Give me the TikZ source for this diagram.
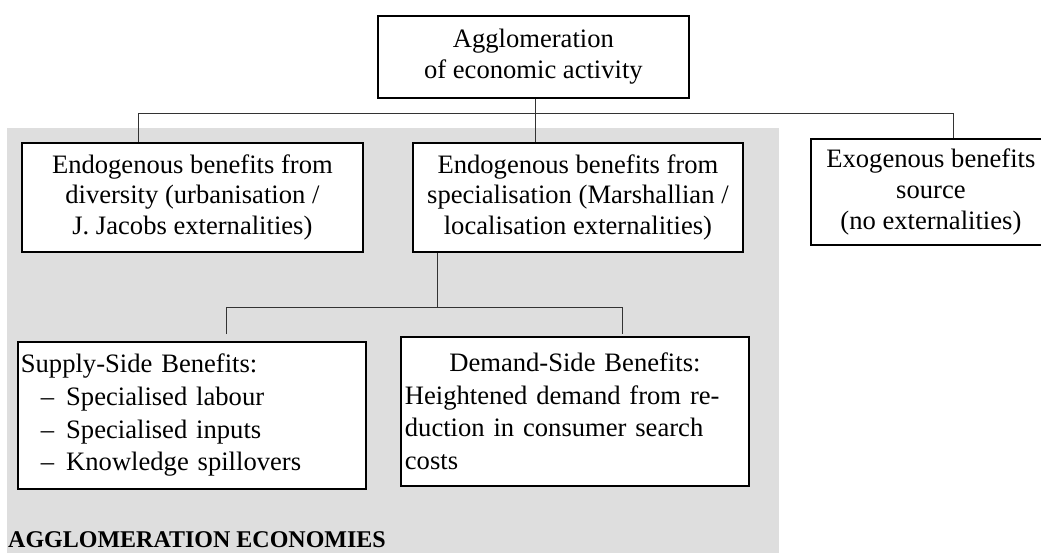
\documentclass[tikz,border=0pt]{standalone}
\usepackage{fontspec}
\setmainfont{Liberation Serif}
\begin{document}
\begin{tikzpicture}[x=1pt,y=-1pt,
  box/.style={draw=black,line width=1.8pt,fill=white,rectangle,anchor=north west,inner sep=0pt,
    font=\fontsize{26.6}{30.6}\selectfont,align=center},
  lbox/.style={draw=black,line width=1.8pt,fill=white,rectangle,anchor=north west,inner xsep=3pt,inner ysep=0pt,
    font=\fontsize{26.6}{32.7}\selectfont,align=left},
  conn/.style={draw=black!80,line width=0.9pt}]
\clip (0,0) rectangle (1041,553);
\fill[fill=black!13] (7,128) rectangle (779,553);
% boxes
\node[box,minimum width=311,minimum height=82] (top) at (377,15) {Agglomeration\\of economic activity};
\node[box,minimum width=341,minimum height=109] (a) at (21,142) {Endogenous benefits from\\diversity (urbanisation /\\J. Jacobs externalities)};
\node[box,minimum width=330,minimum height=109] (b) at (412,142) {Endogenous benefits from\\specialisation (Marshallian /\\localisation externalities)};
\node[box,minimum width=240,minimum height=106] (c) at (810,138) {Exogenous benefits\\source\\(no externalities)};
\node[lbox,minimum width=348,minimum height=147,text width=342] (s) at (17,341) {Supply-Side Benefits:\\
\hspace*{20pt}–\hspace{12pt}Specialised labour\\
\hspace*{20pt}–\hspace{12pt}Specialised inputs\\
\hspace*{20pt}–\hspace{12pt}Knowledge spillovers};
\node[lbox,inner xsep=4pt,minimum width=348,minimum height=149,text width=340] (d) at (400,336) {\makebox[\linewidth][c]{Demand-Side Benefits:}\\
Heightened demand from re-\\duction in consumer search\\costs};
\node[anchor=base west,inner sep=0pt,font=\fontsize{24}{27}\selectfont\bfseries] (ae) at (8,547) {AGGLOMERATION ECONOMIES};
% connectors
\coordinate (j1) at (535,113);
\coordinate (ja) at (138,113);
\coordinate (jc) at (953,113);
\draw[conn] (top.south -| j1) -- (j1);
\draw[conn] (ja |- a.north) -- (ja) -- (jc) -- (jc |- c.north);
\draw[conn] (j1) -- (j1 |- b.north);
\coordinate (jb) at (437,307);
\coordinate (js) at (226,307);
\coordinate (jd) at (622,307);
\coordinate (se) at (226,334);
\coordinate (de) at (622,334);
\draw[conn] (b.south -| jb) -- (jb);
\draw[conn] (se) -- (js) -- (jd) -- (de);
\end{tikzpicture}
\end{document}
